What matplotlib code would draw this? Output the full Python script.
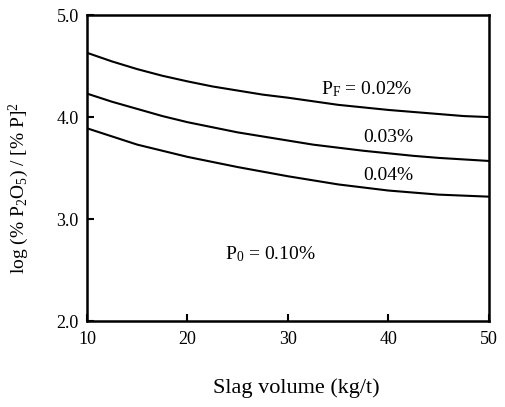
import numpy as np
import matplotlib
matplotlib.use("Agg")
import matplotlib.pyplot as plt

plt.rcParams['font.family'] = ['Liberation Serif', 'DejaVu Serif']
plt.rcParams['mathtext.fontset'] = 'custom'
plt.rcParams['mathtext.rm'] = 'Liberation Serif'
plt.rcParams['mathtext.it'] = 'Liberation Serif:italic'

# slag volume (kg/t)
slag = [10, 12.5, 15, 17.5, 20, 22.5, 25, 27.5, 30, 32.5, 35, 37.5, 40, 42.5, 45, 47.5, 50]
# log (%P2O5)/[%P]^2 for each final phosphorus level
p_002 = [4.63, 4.545, 4.47, 4.405, 4.35, 4.30, 4.26, 4.22, 4.19, 4.155, 4.12,
         4.095, 4.07, 4.05, 4.03, 4.01, 4.00]
p_003 = [4.23, 4.15, 4.08, 4.01, 3.95, 3.90, 3.85, 3.81, 3.77, 3.73, 3.70,
         3.67, 3.645, 3.62, 3.60, 3.585, 3.57]
p_004 = [3.89, 3.81, 3.73, 3.67, 3.61, 3.56, 3.51, 3.465, 3.42, 3.38, 3.34,
         3.31, 3.28, 3.26, 3.24, 3.23, 3.22]

xticks = [10, 20, 30, 40, 50]
yticks = [2.0, 3.0, 4.0, 5.0]

fig = plt.figure(figsize=(5.06, 4.07), dpi=100)
ax = fig.add_axes([0.172, 0.211, 0.794, 0.752])

for ys in (p_002, p_003, p_004):
    ax.plot(slag, ys, color='black', lw=1.5)

ax.set_xlim(10, 50)
ax.set_ylim(2.0, 5.0)
ax.set_xticks(xticks)
ax.set_yticks(yticks)
ax.set_yticklabels([f"{v:.1f}" for v in yticks])
ax.tick_params(direction='in', length=5, width=1.5, labelsize=13)
ax.tick_params(axis='x', pad=7)
ax.tick_params(axis='y', pad=6)
for s in ax.spines.values():
    s.set_linewidth(1.8)

ax.text(37.8, 4.27, r"P$_\mathrm{F}$ = 0.02%", ha='center', va='center', fontsize=14)
ax.text(39.95, 3.80, "0.03%", ha='center', va='center', fontsize=14)
ax.text(39.95, 3.43, "0.04%", ha='center', va='center', fontsize=14)
ax.text(28.2, 2.66, r"P$_0$ = 0.10%", ha='center', va='center', fontsize=14)

ax.set_xlabel("Slag volume (kg/t)", fontsize=16)
ax.xaxis.set_label_coords(0.52, -0.186)
ax.set_ylabel(r"log (% P$_2$O$_5$) / [% P]$^2$", fontsize=14)
ax.yaxis.set_label_coords(-0.14, 0.435)

fig.savefig("out.png", dpi=100)
